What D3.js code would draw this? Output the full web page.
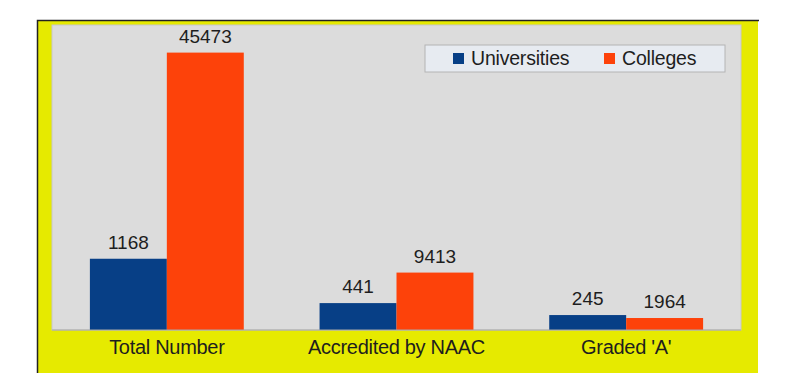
<!DOCTYPE html>
<html>
<head>
<meta charset="utf-8">
<script src="https://cdn.jsdelivr.net/npm/d3@7/dist/d3.min.js"></script>
<style>
  body { margin: 0; background: #fff; }
  text { font-family: "Liberation Sans", Arial, sans-serif; fill: #1e1e1e; }
</style>
</head>
<body>
<svg id="svg" width="800" height="388"></svg>
<script>
// chart data
const categories = ["Total Number", "Accredited by NAAC", "Graded 'A'"];
const seriesNames = ["Universities", "Colleges"];
const universities = [1168, 441, 245];
const colleges = [45473, 9413, 1964];
// each series sits on its own (hidden) value axis
const uniMax = 5000;
const colMax = 50000;

const colors = { Universities: "#073f86", Colleges: "#fd420a" };

const svg = d3.select("#svg");
const plot = { left: 52, right: 741, top: 25, bottom: 330 };

// yellow frame with the dark edge on top and left
svg.append("rect")
    .attr("x", 37).attr("y", 20)
    .attr("width", 721).attr("height", 353)
    .style("fill", "#e6ea00");
svg.append("path")
    .attr("d", "M37.5,373 V20.5 H759")
    .style("fill", "none")
    .style("stroke", "#222")
    .style("stroke-width", 1.5);

// grey plot area
svg.append("rect")
    .attr("x", plot.left).attr("y", plot.top)
    .attr("width", plot.right - plot.left).attr("height", plot.bottom - plot.top)
    .style("fill", "#dcdcdc")
    .style("stroke", "#c8c8c8")
    .style("stroke-width", 1);

const x0 = d3.scaleBand()
    .domain(categories)
    .range([plot.left, plot.right])
    .paddingInner(0.33)
    .paddingOuter(0.165);

const x1 = d3.scaleBand()
    .domain(seriesNames)
    .range([0, x0.bandwidth()]);

const yScales = {
    Universities: d3.scaleLinear().domain([0, uniMax]).range([plot.bottom, plot.top]),
    Colleges: d3.scaleLinear().domain([0, colMax]).range([plot.bottom, plot.top])
};

const rows = categories.map((c, i) => ({
    category: c,
    values: [
        { key: "Universities", value: universities[i] },
        { key: "Colleges", value: colleges[i] }
    ]
}));

const groups = svg.append("g").selectAll("g")
    .data(rows)
    .join("g")
    .attr("transform", d => `translate(${x0(d.category)},0)`);

groups.selectAll("rect")
    .data(d => d.values)
    .join("rect")
    .attr("x", d => x1(d.key))
    .attr("y", d => yScales[d.key](d.value))
    .attr("width", x1.bandwidth())
    .attr("height", d => plot.bottom - yScales[d.key](d.value))
    .style("fill", d => colors[d.key]);

groups.selectAll("text")
    .data(d => d.values)
    .join("text")
    .attr("x", d => x1(d.key) + x1.bandwidth() / 2)
    .attr("y", d => yScales[d.key](d.value) - 10)
    .attr("text-anchor", "middle")
    .style("font-size", "19px")
    .text(d => d.value);

// baseline
svg.append("line")
    .attr("x1", plot.left).attr("x2", plot.right)
    .attr("y1", plot.bottom).attr("y2", plot.bottom)
    .style("stroke", "#a8a8a8");

// category axis, no ticks or domain line
const xAxis = svg.append("g")
    .attr("transform", `translate(0,${plot.bottom})`)
    .call(d3.axisBottom(x0).tickSize(0).tickPadding(10));
xAxis.select(".domain").remove();
xAxis.selectAll("text")
    .style("font-family", "'Liberation Sans', Arial, sans-serif")
    .style("font-size", "20px")
    .style("letter-spacing", "-0.3px")
    .style("fill", "#1e1e1e");

// legend
const legend = svg.append("g").attr("transform", "translate(425,45)");
legend.append("rect")
    .attr("width", 300).attr("height", 27)
    .style("fill", "#e7ebf1")
    .style("stroke", "#b4b4b4")
    .style("stroke-width", 1);
const legendX = [28, 179];
seriesNames.forEach((name, i) => {
    legend.append("rect")
        .attr("x", legendX[i]).attr("y", 8)
        .attr("width", 11).attr("height", 11)
        .style("fill", colors[name]);
    legend.append("text")
        .attr("x", legendX[i] + 18).attr("y", 20)
        .style("font-size", "19.5px")
        .style("letter-spacing", "-0.2px")
        .text(name);
});
</script>
</body>
</html>
